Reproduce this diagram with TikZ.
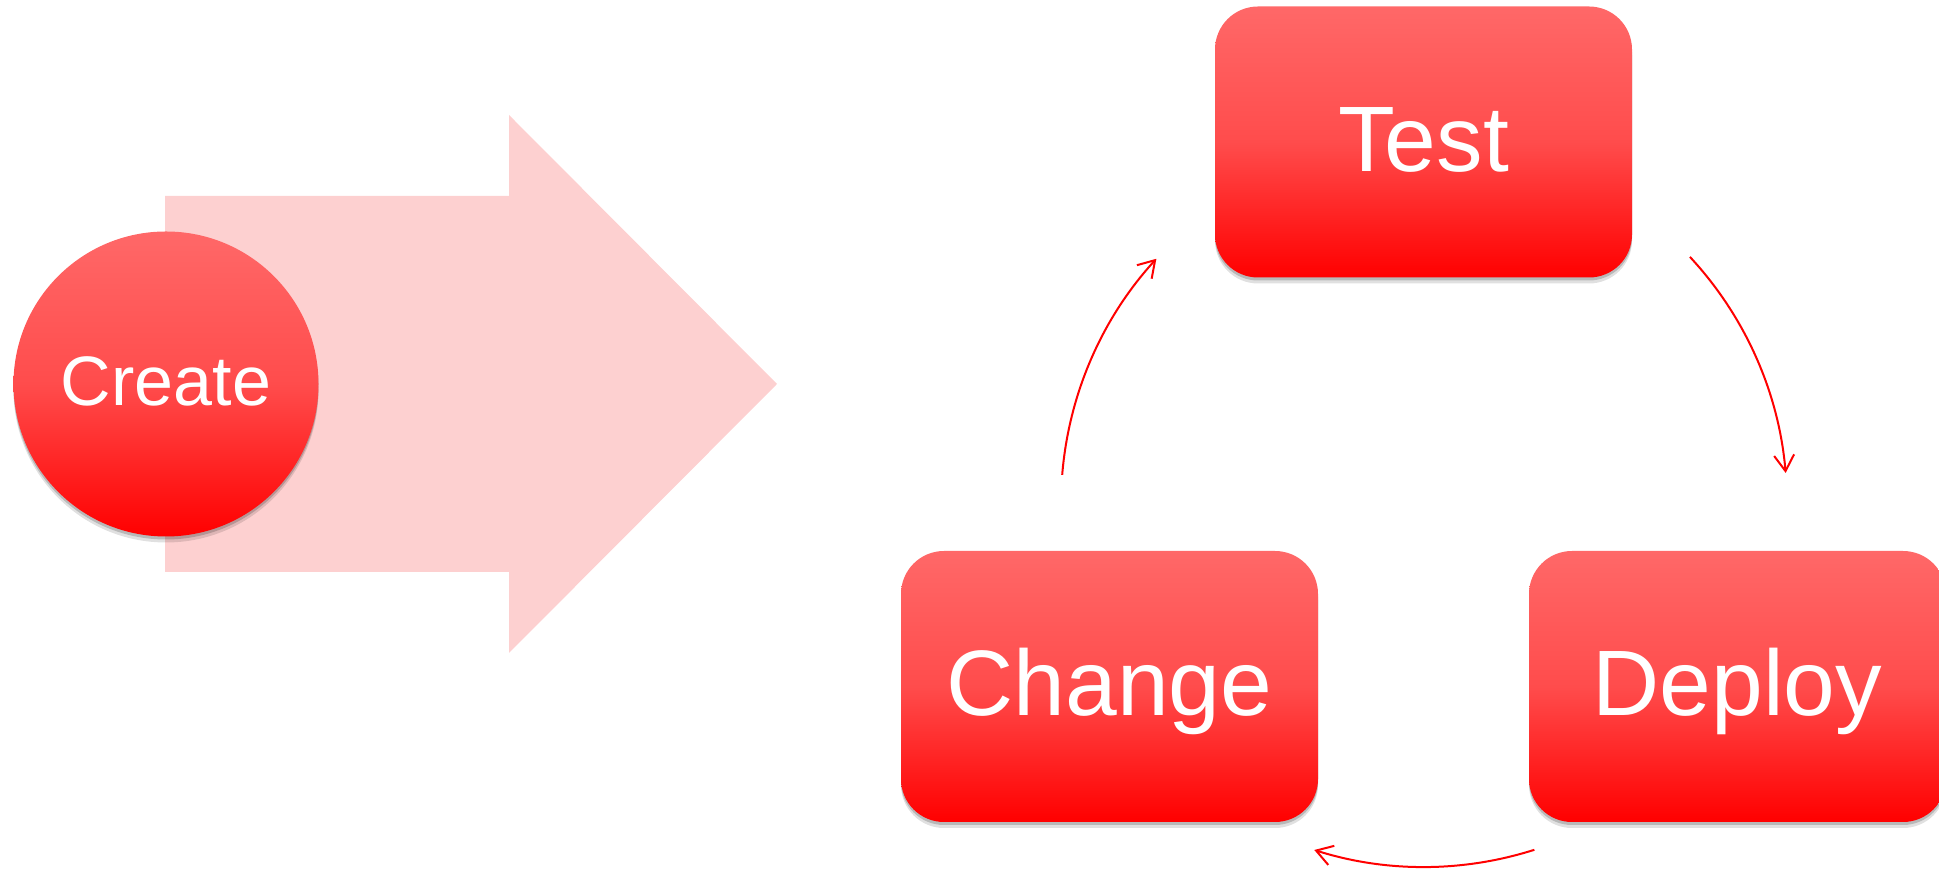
\documentclass[tikz,border=0pt]{standalone}
\usepackage{fontspec}
\setmainfont{Liberation Sans}
\usetikzlibrary{arrows.meta,shadows}
\definecolor{boxtop}{RGB}{255,104,104}
\definecolor{boxmid}{RGB}{255,76,76}
\definecolor{boxbot}{RGB}{255,0,0}
\definecolor{pinkarrow}{RGB}{253,208,208}
\definecolor{cycred}{RGB}{255,0,0}
\begin{document}
\begin{tikzpicture}[x=0.5pt,y=0.5pt,
  redfill/.style={top color=boxtop, bottom color=boxbot, middle color=boxmid, text=white, inner sep=0pt,
     drop shadow={shadow xshift=0pt, shadow yshift=-3pt, opacity=0.12, fill=black},
     drop shadow={shadow xshift=0pt, shadow yshift=-1.5pt, opacity=0.18, fill=black}},
  stepbox/.style={redfill, rectangle, rounded corners=21.5pt, minimum width=208.5pt, minimum height=135.5pt,
     font=\fontsize{46.5}{50}\selectfont, text height=29.5pt, text depth=0pt},
  startcircle/.style={redfill, circle, minimum size=152.5pt, font=\fontsize{35}{40}\selectfont,
     text height=22pt, text depth=0pt},
  cyclearrow/.style={draw=cycred, line width=1pt, -{Straight Barb[length=8pt,width=10pt]}}
]
\useasboundingbox (0,0) rectangle (1939,871);
% big pale arrow
\fill[pinkarrow] (165,675) -- (509,675) -- (509,756) -- (777,487) -- (509,218) -- (509,299) -- (165,299) -- cycle;
% nodes
\node[startcircle] (create) at (166,487) {Create};
\node[stepbox] (test) at (1423.5,729) {Test};
\node[stepbox] (change) at (1109.5,184.5) {Change};
\node[stepbox] (deploy) at (1737.5,184.5) {Deploy};
% cycle arrows
\coordinate (cyc) at (1424,367);
\draw[cyclearrow] ([shift={(175.4:181.5pt)}]cyc) arc[start angle=175.4, end angle=137.5, radius=181.5pt];
\draw[cyclearrow] ([shift={(42.9:181.5pt)}]cyc) arc[start angle=42.9, end angle=4.9, radius=181.5pt];
\draw[cyclearrow] ([shift={(-72.3:181.5pt)}]cyc) arc[start angle=-72.3, end angle=-107.6, radius=181.5pt];
\end{tikzpicture}
\end{document}
